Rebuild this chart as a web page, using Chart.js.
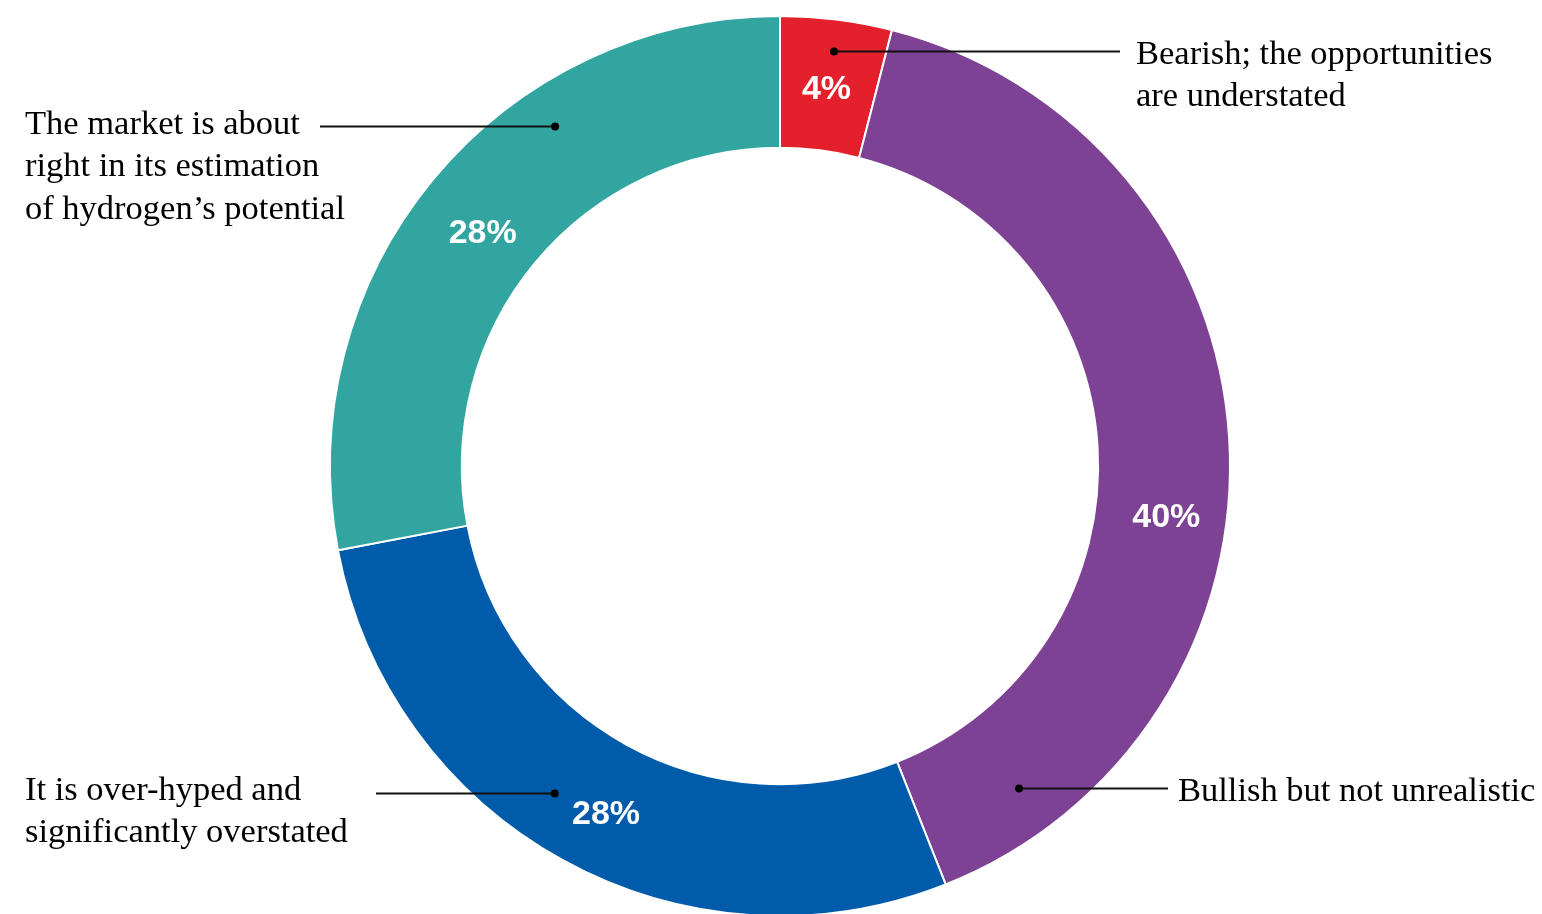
<!DOCTYPE html>
<html lang="en">
<head>
  <meta charset="UTF-8">
  <title>Hydrogen market sentiment</title>
  <script src="https://cdn.jsdelivr.net/npm/chart.js"></script>
  <style>
    html, body {
      margin: 0;
      padding: 0;
      background: #ffffff;
      overflow: hidden;
    }
    #wrap {
      width: 1542px;
      height: 914px;
    }
  </style>
</head>
<body>
  <div id="wrap">
    <canvas id="sentimentChart" width="1542" height="914"></canvas>
  </div>

  <script>
    // survey answers, clockwise from twelve o'clock
    const answers = [
      ["Bearish; the opportunities", "are understated"],
      ["Bullish but not unrealistic"],
      ["It is over-hyped and", "significantly overstated"],
      ["The market is about", "right in its estimation", "of hydrogen\u2019s potential"]
    ];
    const shares = [4, 40, 28, 28];
    const sliceColors = ["#e3202b", "#7d4293", "#005baa", "#33a5a0"];

    // callout dot inside each slice: [fraction of the sweep, fraction of the ring depth]
    const dotAnchor = [[0.515, 0.76], [0.896, 0.63], [0.557, 0.6], [0.668, 0.68]];
    // percentage label inside each slice, same convention
    const pctAnchor = [[0.486, 0.48], [0.575, 0.54], [0.479, 0.525], [0.487, 0.46]];
    // callout layout: where the leader stops, where text starts, baseline below the leader
    const leaderEnd = [1120, 1168, 376, 320];
    const textX = [1136, 1178, 25, 25];
    const baselineDrop = [12, 12, 6, 7];

    function arcPoint(arc, frac, depth) {
      const a = arc.startAngle + (arc.endAngle - arc.startAngle) * frac;
      const r = arc.innerRadius + (arc.outerRadius - arc.innerRadius) * depth;
      return { x: arc.x + r * Math.cos(a), y: arc.y + r * Math.sin(a) };
    }

    const calloutPlugin = {
      id: "callouts",
      afterDatasetsDraw(chart) {
        const ctx = chart.ctx;
        const meta = chart.getDatasetMeta(0);
        ctx.save();
        ctx.textBaseline = "alphabetic";

        meta.data.forEach((arc, i) => {
          // percentage inside the ring (caps centred on the anchor)
          const p = arcPoint(arc, pctAnchor[i][0], pctAnchor[i][1]);
          ctx.fillStyle = "#ffffff";
          ctx.font = "bold 34px 'Liberation Sans', Arial, sans-serif";
          ctx.textAlign = "center";
          ctx.fillText(shares[i] + "%", p.x, p.y + 12);

          // leader line and dot
          const d = arcPoint(arc, dotAnchor[i][0], dotAnchor[i][1]);
          const y = Math.round(d.y) + 0.5;
          ctx.strokeStyle = "#111111";
          ctx.lineWidth = 2;
          ctx.beginPath();
          ctx.moveTo(d.x, y);
          ctx.lineTo(leaderEnd[i], y);
          ctx.stroke();
          ctx.fillStyle = "#000000";
          ctx.beginPath();
          ctx.arc(d.x, y, 4, 0, Math.PI * 2);
          ctx.fill();

          // answer text
          ctx.font = "34.5px 'Liberation Serif', 'Times New Roman', serif";
          ctx.textAlign = "left";
          answers[i].forEach((line, k) => {
            ctx.fillText(line, textX[i], y + baselineDrop[i] + k * 42.5);
          });
        });

        ctx.restore();
      }
    };

    new Chart(document.getElementById("sentimentChart"), {
      type: "doughnut",
      data: {
        labels: answers.map(a => a.join(" ")),
        datasets: [{
          data: shares,
          backgroundColor: sliceColors,
          borderColor: "#ffffff",
          borderWidth: 2
        }]
      },
      options: {
        responsive: false,
        animation: false,
        // the ring runs slightly past the bottom edge, so size it in pixels
        radius: 450,
        cutout: "70.7%",
        layout: {
          padding: { top: 18, bottom: 0, left: 331, right: 313 }
        },
        plugins: {
          legend: { display: false },
          tooltip: { enabled: false }
        }
      },
      plugins: [calloutPlugin]
    });
  </script>
</body>
</html>
